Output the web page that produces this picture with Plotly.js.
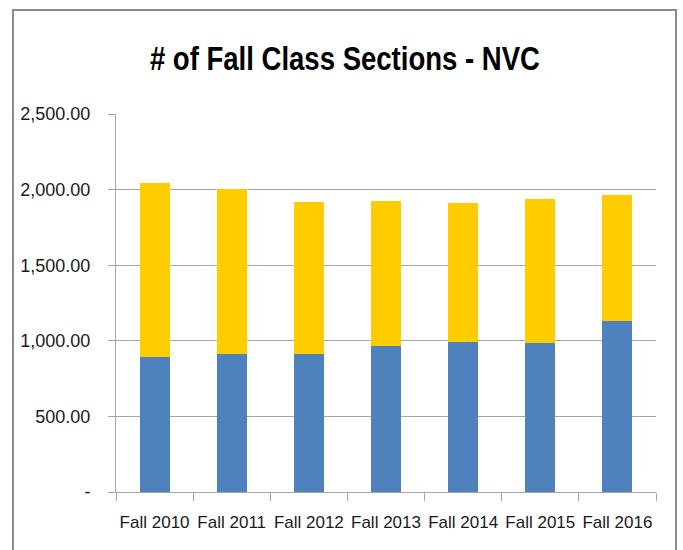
<!DOCTYPE html>
<html>
<head>
<meta charset="utf-8">
<script src="https://cdn.plot.ly/plotly-3.0.1.min.js"></script>
<style>
html,body{margin:0;padding:0;background:#fff;overflow:hidden;}
#wrap{position:relative;width:683px;height:550px;}
#chart{position:absolute;left:0;top:0;width:683px;height:550px;}
#frame{position:absolute;left:12px;top:9px;width:665px;height:580px;border:2px solid #8c8c8c;box-sizing:border-box;pointer-events:none;}
</style>
</head>
<body>
<div id="wrap">
<div id="chart"></div>
<div id="frame"></div>
</div>
<script>
var categories = ["Fall 2010","Fall 2011","Fall 2012","Fall 2013","Fall 2014","Fall 2015","Fall 2016"];
var lowerSeries = [891, 916, 916, 963, 993, 987, 1130];
var upperSeries = [1151, 1086, 1000, 960, 921, 951, 832];
var yTickVals = [0, 500, 1000, 1500, 2000, 2500];
var yTickText = ["-", "500.00", "1,000.00", "1,500.00", "2,000.00", "2,500.00"];

var fontFam = "'Liberation Sans', Arial, sans-serif";

var data = [
  {type:"bar", x:categories, y:lowerSeries, marker:{color:"#4F81BD"}, name:"Series 1", hoverinfo:"y"},
  {type:"bar", x:categories, y:upperSeries, marker:{color:"#FFCC00"}, name:"Series 2", hoverinfo:"y"}
];

var layout = {
  width:683, height:550,
  barmode:"stack",
  bargap:0.61,
  showlegend:false,
  paper_bgcolor:"#ffffff",
  plot_bgcolor:"#ffffff",
  margin:{l:116, r:27, t:114, b:58},
  title:{text:"<b># of Fall Class Sections - NVC</b>", x:0.505, xanchor:"center", y:0.895, yanchor:"middle",
         font:{family:fontFam, size:34, color:"#000"}},
  xaxis:{type:"category", tickson:"boundaries", ticks:"outside", ticklen:8, tickcolor:"#a6a6a6",
         showline:true, linecolor:"#a6a6a6", linewidth:1, showgrid:false, tickangle:0,
         tickfont:{family:fontFam, size:17, color:"#1a1a1a"}, ticklabelstandoff:15, fixedrange:true},
  yaxis:{range:[0,2500], tickvals:yTickVals, ticktext:yTickText, ticks:"outside", ticklen:7, tickcolor:"#a6a6a6",
         showline:true, linecolor:"#a6a6a6", linewidth:1, showgrid:true, gridcolor:"#a6a6a6", gridwidth:1,
         zeroline:false, tickfont:{family:fontFam, size:18, color:"#1a1a1a"}, ticklabelstandoff:14, fixedrange:true}
};

Plotly.newPlot("chart", data, layout, {displayModeBar:false, staticPlot:true}).then(function(gd){
  var t = gd.querySelector(".gtitle");
  if (t) {
    t.setAttribute("textLength", "390");
    t.setAttribute("lengthAdjust", "spacingAndGlyphs");
  }
});
</script>
</body>
</html>
